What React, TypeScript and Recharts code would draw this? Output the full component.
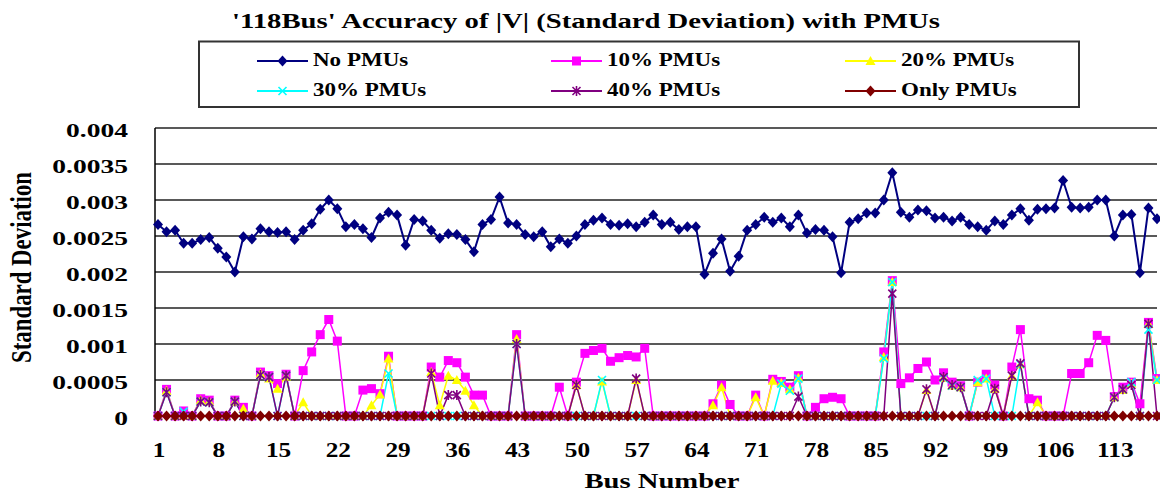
import React from 'react';
import { LineChart, Line, XAxis, YAxis, CartesianGrid } from 'recharts';

// bus numbers on the category axis
const busNumbers = Array.from({ length: 118 }, (_, i) => i + 1);

const noPmus = [
  0.00266, 0.00256, 0.00258, 0.0024, 0.0024, 0.00245, 0.00248, 0.00233, 0.00221, 0.002,
  0.00249, 0.00246, 0.0026, 0.00256, 0.00255, 0.00256, 0.00245, 0.00258, 0.00267, 0.00287,
  0.003, 0.00288, 0.00263, 0.00266, 0.0026, 0.00248, 0.00275, 0.00283, 0.00279, 0.00237,
  0.00273, 0.00271, 0.00258, 0.00247, 0.00253, 0.00252, 0.00245, 0.00228, 0.00266, 0.00273,
  0.00304, 0.00268, 0.00266, 0.00252, 0.00249, 0.00256, 0.00235, 0.00246, 0.0024, 0.0025,
  0.00266, 0.00272, 0.00275, 0.00266, 0.00265, 0.00267, 0.00263, 0.00269, 0.00279, 0.00266,
  0.00269, 0.00259, 0.00263, 0.00263, 0.00197, 0.00226, 0.00246, 0.00201, 0.00222, 0.00258,
  0.00266, 0.00276, 0.00269, 0.00275, 0.00263, 0.00279, 0.00254, 0.00259, 0.00258, 0.00249,
  0.00199, 0.00269, 0.00274, 0.00282, 0.00282, 0.003, 0.00338, 0.00283, 0.00276, 0.00286,
  0.00285, 0.00275, 0.00276, 0.00271, 0.00276, 0.00266, 0.00263, 0.00258, 0.00271, 0.00266,
  0.00279, 0.00288, 0.00272, 0.00287, 0.00288, 0.00289, 0.00327, 0.0029, 0.00289, 0.0029,
  0.003, 0.003, 0.0025, 0.00279, 0.0028, 0.00199, 0.00289, 0.00274,
];

const pmus10 = [
  0, 0.00037, 0, 0.00007, 0, 0.00024, 0.00022, 0, 0, 0.00022,
  0.00012, 0, 0.00061, 0.00056, 0.00045, 0.00058, 0, 0.00063, 0.00089, 0.00113,
  0.00134, 0.00104, 0, 0, 0.00036, 0.00038, 0.00031, 0.00083, 0, 0,
  0, 0, 0.00068, 0.00054, 0.00077, 0.00074, 0.00054, 0.00029, 0.00029, 0,
  0, 0, 0.00113, 0, 0, 0, 0, 0.0004, 0, 0.00047,
  0.00087, 0.00091, 0.00094, 0.00076, 0.00081, 0.00084, 0.00082, 0.00094, 0, 0,
  0, 0, 0, 0, 0, 0.00017, 0.00043, 0.00016, 0, 0,
  0.00029, 0, 0.00051, 0.00048, 0.0004, 0.00056, 0, 0.00012, 0.00024, 0.00026,
  0.00024, 0, 0, 0, 0, 0.00089, 0.00188, 0.00045, 0.00053, 0.00066,
  0.00075, 0.0005, 0.0006, 0.00047, 0.00042, 0, 0.00047, 0.00058, 0.00043, 0,
  0.00068, 0.0012, 0.00024, 0.00022, 0, 0, 0, 0.00059, 0.00059, 0.00074,
  0.00112, 0.00105, 0.00027, 0.0004, 0.00047, 0.00017, 0.0013, 0.00052,
];

const pmus20 = [
  0, 0.00035, 0, 0, 0, 0.00022, 0.0002, 0, 0, 0.0002,
  0.0001, 0, 0.00059, 0.00052, 0.00038, 0.00055, 0, 0.00019, 0, 0,
  0, 0, 0, 0, 0, 0.00015, 0.0003, 0.0008, 0, 0,
  0, 0, 0.00061, 0.00015, 0.00056, 0.0005, 0.00035, 0.00015, 0, 0,
  0, 0, 0.00107, 0, 0, 0, 0, 0, 0, 0.00043,
  0, 0, 0.00048, 0, 0, 0, 0.0005, 0, 0, 0,
  0, 0, 0, 0, 0, 0.00015, 0.0004, 0, 0, 0,
  0.00026, 0, 0.00049, 0.00046, 0.00037, 0.00053, 0, 0, 0, 0,
  0, 0, 0, 0, 0, 0.00082, 0.00186, 0, 0, 0,
  0.00036, 0, 0.00053, 0.00042, 0.0004, 0, 0.00047, 0.00052, 0.00038, 0,
  0.00056, 0.00072, 0, 0.00019, 0, 0, 0, 0, 0, 0,
  0, 0, 0.00026, 0.00036, 0.00045, 0, 0.00128, 0.0005,
];

const pmus30 = [
  0, 0.00033, 0, 0.00006, 0, 0.0002, 0.00019, 0, 0, 0.0002,
  0, 0, 0.00057, 0.00054, 0, 0.00056, 0, 0, 0, 0,
  0, 0, 0, 0, 0, 0, 0, 0.00059, 0, 0,
  0, 0, 0, 0, 0, 0, 0, 0, 0, 0,
  0, 0, 0.001, 0, 0, 0, 0, 0, 0, 0,
  0, 0, 0.0005, 0, 0, 0, 0, 0, 0, 0,
  0, 0, 0, 0, 0, 0, 0, 0, 0, 0,
  0, 0, 0, 0.00045, 0.00035, 0.00052, 0, 0, 0, 0,
  0, 0, 0, 0, 0, 0.0008, 0.00186, 0, 0, 0,
  0, 0, 0.00053, 0.00042, 0.0004, 0, 0.0005, 0.00052, 0, 0,
  0, 0.00072, 0, 0, 0, 0, 0, 0, 0, 0,
  0, 0, 0.00026, 0.00037, 0.00047, 0, 0.0012, 0.0005,
];

const pmus40 = [
  0, 0.00033, 0, 0, 0, 0.0002, 0.00019, 0, 0, 0.0002,
  0, 0, 0.00057, 0.00054, 0, 0.00056, 0, 0, 0, 0,
  0, 0, 0, 0, 0, 0, 0, 0, 0, 0,
  0, 0, 0.00059, 0, 0.00029, 0.00029, 0, 0, 0, 0,
  0, 0, 0.001, 0, 0, 0, 0, 0, 0, 0.00043,
  0, 0, 0, 0, 0, 0, 0.00052, 0, 0, 0,
  0, 0, 0, 0, 0, 0, 0, 0, 0, 0,
  0, 0, 0, 0, 0, 0.00027, 0, 0, 0, 0,
  0, 0, 0, 0, 0, 0, 0.0017, 0, 0, 0,
  0.00037, 0, 0.00054, 0.00043, 0.0004, 0, 0, 0, 0.00038, 0,
  0.00056, 0.00073, 0, 0, 0, 0, 0, 0, 0, 0,
  0, 0, 0.00026, 0.00037, 0.00043, 0, 0.00128, 0,
];

const onlyPmus = [
  0, 0, 0, 0, 0, 0, 0, 0, 0, 0,
  0, 0, 0, 0, 0, 0, 0, 0, 0, 0,
  0, 0, 0, 0, 0, 0, 0, 0, 0, 0,
  0, 0, 0, 0, 0, 0, 0, 0, 0, 0,
  0, 0, 0, 0, 0, 0, 0, 0, 0, 0,
  0, 0, 0, 0, 0, 0, 0, 0, 0, 0,
  0, 0, 0, 0, 0, 0, 0, 0, 0, 0,
  0, 0, 0, 0, 0, 0, 0, 0, 0, 0,
  0, 0, 0, 0, 0, 0, 0, 0, 0, 0,
  0, 0, 0, 0, 0, 0, 0, 0, 0, 0,
  0, 0, 0, 0, 0, 0, 0, 0, 0, 0,
  0, 0, 0, 0, 0, 0, 0, 0,
];

const yTicks = [0, 0.0005, 0.001, 0.0015, 0.002, 0.0025, 0.003, 0.0035, 0.004];
const yTickLabels = ['0', '0.0005', '0.001', '0.0015', '0.002', '0.0025', '0.003', '0.0035', '0.004'];

const series = [
  { key: 'noPmus', name: 'No PMUs', color: '#000080', marker: 'diamond', width: 2 },
  { key: 'pmus10', name: '10% PMUs', color: '#FF00FF', marker: 'square', width: 1.5 },
  { key: 'pmus20', name: '20% PMUs', color: '#FFFF00', marker: 'triangle', width: 1.5 },
  { key: 'pmus30', name: '30% PMUs', color: '#00FFFF', marker: 'x', width: 1.5 },
  { key: 'pmus40', name: '40% PMUs', color: '#800080', marker: 'star', width: 1.5 },
  { key: 'onlyPmus', name: 'Only PMUs', color: '#800000', marker: 'diamond', width: 1.5 },
];

const data = busNumbers.map((bus, i) => ({
  bus,
  noPmus: noPmus[i],
  pmus10: pmus10[i],
  pmus20: pmus20[i],
  pmus30: pmus30[i],
  pmus40: pmus40[i],
  onlyPmus: onlyPmus[i],
}));

const FONT = '"Liberation Serif", "Times New Roman", serif';

function Marker({ type, cx, cy, color }: { type: string; cx: number; cy: number; color: string }) {
  if (type === 'diamond')
    return <path d={`M${cx},${cy - 5.5}L${cx + 5},${cy}L${cx},${cy + 5.5}L${cx - 5},${cy}Z`} fill={color} />;
  if (type === 'square') return <rect x={cx - 4.5} y={cy - 4.5} width={9} height={9} fill={color} />;
  if (type === 'triangle')
    return <path d={`M${cx},${cy - 5}L${cx + 5},${cy + 4}L${cx - 5},${cy + 4}Z`} fill={color} />;
  if (type === 'x')
    return (
      <path
        d={`M${cx - 4},${cy - 4}L${cx + 4},${cy + 4}M${cx + 4},${cy - 4}L${cx - 4},${cy + 4}`}
        stroke={color}
        strokeWidth={1.6}
        fill="none"
      />
    );
  // star: x with a vertical bar
  return (
    <path
      d={`M${cx - 4},${cy - 4}L${cx + 4},${cy + 4}M${cx + 4},${cy - 4}L${cx - 4},${cy + 4}M${cx},${cy - 5}L${cx},${cy + 5}`}
      stroke={color}
      strokeWidth={1.6}
      fill="none"
    />
  );
}

const makeDot = (type: string, color: string) => (props: any) => {
  const { cx, cy, index } = props;
  if (cx == null || cy == null) return <g key={`${type}-${color}-${index}`} />;
  return (
    <g key={`${type}-${color}-${index}`}>
      <Marker type={type} cx={cx} cy={cy} color={color} />
    </g>
  );
};

const YTick = (props: any) => {
  const { x, y, payload } = props;
  const i = yTicks.findIndex((t) => Math.abs(t - payload.value) < 1e-9);
  const label = i >= 0 ? yTickLabels[i] : String(payload.value);
  return (
    <text
      transform={`translate(${x},${y + 9}) scale(1.45,1)`}
      textAnchor="end"
      fontFamily={FONT}
      fontWeight="bold"
      fontSize={19}
      fill="#000"
    >
      {label}
    </text>
  );
};

const XTick = (props: any) => {
  const { x, y, payload } = props;
  return (
    <text
      transform={`translate(${x + 1},${y + 41}) scale(1.15,1)`}
      textAnchor="middle"
      fontFamily={FONT}
      fontWeight="bold"
      fontSize={22}
      fill="#000"
    >
      {payload.value}
    </text>
  );
};

function Overlay() {
  const cols = [257, 551, 845];
  const rows = [61, 91];
  return (
    <svg width={1160} height={493} style={{ position: 'absolute', left: 0, top: 0, pointerEvents: 'none' }}>
      <text
        x={232}
        y={28}
        textLength={708}
        lengthAdjust="spacingAndGlyphs"
        fontFamily={FONT}
        fontWeight="bold"
        fontSize={22}
        fill="#000"
      >
        '118Bus' Accuracy of |V| (Standard Deviation) with PMUs
      </text>
      <rect x={199} y={41.5} width={880} height={65.5} fill="#fff" stroke="#333" strokeWidth={2} />
      {series.map((s, i) => {
        const x0 = cols[i % 3];
        const y0 = rows[Math.floor(i / 3)];
        return (
          <g key={s.key}>
            <line x1={x0} y1={y0} x2={x0 + 51} y2={y0} stroke={s.color} strokeWidth={2} />
            <Marker type={s.marker} cx={x0 + 25.5} cy={y0} color={s.color} />
            <text
              transform={`translate(${x0 + 56},${y0 + 5}) scale(1.28,1)`}
              fontFamily={FONT}
              fontWeight="bold"
              fontSize={18}
              fill="#000"
            >
              {s.name}
            </text>
          </g>
        );
      })}
      <text
        transform="translate(31,267.5) rotate(-90) scale(1,1.35)"
        textAnchor="middle"
        textLength={191}
        lengthAdjust="spacingAndGlyphs"
        fontFamily={FONT}
        fontWeight="bold"
        fontSize={22}
        fill="#000"
      >
        Standard Deviation
      </text>
      <text
        x={662}
        y={488}
        textAnchor="middle"
        textLength={155}
        lengthAdjust="spacingAndGlyphs"
        fontFamily={FONT}
        fontWeight="bold"
        fontSize={22}
        fill="#000"
      >
        Bus Number
      </text>
    </svg>
  );
}

export default function App() {
  return (
    <div
      style={{
        position: 'absolute',
        left: 0,
        top: 0,
        width: 1160,
        height: 493,
        background: '#fff',
        overflow: 'hidden',
      }}
    >
      <LineChart width={1160} height={493} data={data} margin={{ top: 128, right: 3, bottom: 0, left: 0 }}>
        <CartesianGrid vertical={false} stroke="#222" strokeWidth={1.6} />
        <XAxis
          dataKey="bus"
          interval={6}
          height={77}
          padding={{ left: 3, right: 0 }}
          tickLine={false}
          tickSize={0}
          tickMargin={0}
          axisLine={{ stroke: '#000', strokeWidth: 1.5 }}
          tick={<XTick />}
        />
        <YAxis
          width={155}
          domain={[0, 0.004]}
          ticks={yTicks}
          tickLine={false}
          tickSize={0}
          tickMargin={27}
          axisLine={{ stroke: '#000', strokeWidth: 1.5 }}
          tick={<YTick />}
        />
        {series.map((s) => (
          <Line
            key={s.key}
            type="linear"
            dataKey={s.key}
            name={s.name}
            stroke={s.color}
            strokeWidth={s.width}
            dot={makeDot(s.marker, s.color)}
            activeDot={false}
            isAnimationActive={false}
          />
        ))}
      </LineChart>
      <Overlay />
    </div>
  );
}
